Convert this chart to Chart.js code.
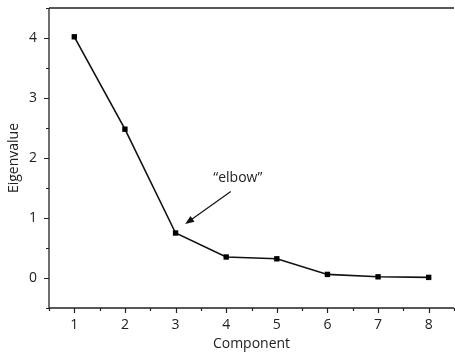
<!DOCTYPE html>
<html>
<head>
<meta charset="utf-8">
<script src="https://cdn.jsdelivr.net/npm/chart.js@4"></script>
<style>
  html, body { margin: 0; padding: 0; background: #fff; overflow: hidden; }
  #wrap { width: 458px; height: 352px; }
</style>
</head>
<body>
<div id="wrap"><canvas id="scree"></canvas></div>
<script>
// Daten
const components = [1, 2, 3, 4, 5, 6, 7, 8];
const eigenvalues = [4.02, 2.48, 0.75, 0.35, 0.32, 0.06, 0.02, 0.01];
const xTicks = [1, 2, 3, 4, 5, 6, 7, 8];
const yTicks = [0, 1, 2, 3, 4];

// Annotation in Datenkoordinaten
const elbowLabel = { text: '\u201celbow\u201d', x: 4.23, y: 1.67 };
const elbowArrow = { fromX: 4.09, fromY: 1.44, toX: 3.19, toY: 0.90 };

const FONT = '"Open Sans", "Noto Sans", sans-serif';

// Achsenlinien, Haupt- und Nebenstriche, Pfeil
const axesPlugin = {
    id: 'axesPlugin',
    afterDraw(chart) {
        const { ctx, chartArea: a, scales: { x, y } } = chart;
        ctx.save();
        ctx.strokeStyle = '#222';
        ctx.lineWidth = 1.3;
        ctx.beginPath();
        ctx.moveTo(a.left, a.top);
        ctx.lineTo(a.right, a.top);
        ctx.moveTo(a.left, a.top);
        ctx.lineTo(a.left, a.bottom);
        ctx.lineTo(a.right, a.bottom);
        ctx.stroke();

        ctx.lineWidth = 1.2;
        ctx.beginPath();
        for (let v = x.min; v <= x.max + 1e-9; v += 0.5) {
            const px = Math.round(x.getPixelForValue(v)) + 0.5;
            const len = Number.isInteger(v) ? 5 : 3;
            ctx.moveTo(px, a.bottom);
            ctx.lineTo(px, a.bottom + len);
        }
        for (let v = y.min; v <= y.max + 1e-9; v += 0.5) {
            const py = Math.round(y.getPixelForValue(v)) + 0.5;
            const len = Number.isInteger(v) ? 5 : 3;
            ctx.moveTo(a.left, py);
            ctx.lineTo(a.left - len, py);
        }
        ctx.stroke();

        // Pfeil
        const x1 = x.getPixelForValue(elbowArrow.fromX), y1 = y.getPixelForValue(elbowArrow.fromY);
        const x2 = x.getPixelForValue(elbowArrow.toX), y2 = y.getPixelForValue(elbowArrow.toY);
        const ang = Math.atan2(y2 - y1, x2 - x1);
        ctx.strokeStyle = '#111';
        ctx.fillStyle = '#111';
        ctx.lineWidth = 1.2;
        ctx.beginPath();
        ctx.moveTo(x1, y1);
        ctx.lineTo(x2 - 6 * Math.cos(ang), y2 - 6 * Math.sin(ang));
        ctx.stroke();
        ctx.beginPath();
        ctx.moveTo(x2, y2);
        ctx.lineTo(x2 - 9 * Math.cos(ang) + 3.5 * Math.sin(ang), y2 - 9 * Math.sin(ang) - 3.5 * Math.cos(ang));
        ctx.lineTo(x2 - 9 * Math.cos(ang) - 3.5 * Math.sin(ang), y2 - 9 * Math.sin(ang) + 3.5 * Math.cos(ang));
        ctx.closePath();
        ctx.fill();

        ctx.font = '14px ' + FONT;
        ctx.fillStyle = '#222';
        ctx.textAlign = 'center';
        ctx.textBaseline = 'middle';
        ctx.fillText(elbowLabel.text, x.getPixelForValue(elbowLabel.x), y.getPixelForValue(elbowLabel.y));
        ctx.restore();
    }
};

new Chart(document.getElementById('scree'), {
    type: 'line',
    data: {
        datasets: [{
            data: components.map((c, i) => ({ x: c, y: eigenvalues[i] })),
            borderColor: '#111',
            borderWidth: 1.6,
            tension: 0,
            pointStyle: 'rect',
            pointRadius: 3.8,
            pointBackgroundColor: '#000',
            pointBorderColor: '#000',
            pointBorderWidth: 0
        }]
    },
    options: {
        responsive: true,
        maintainAspectRatio: false,
        animation: false,
        layout: { padding: { top: 8, right: 0, left: 0, bottom: 0 } },
        plugins: { legend: { display: false }, tooltip: { enabled: false } },
        scales: {
            x: {
                type: 'linear',
                min: 0.5,
                max: 8.5,
                afterBuildTicks: s => { s.ticks = xTicks.map(v => ({ value: v })); },
                afterFit: s => { s.height = 44; s.paddingLeft = 0; s.paddingRight = 0; },
                grid: { display: false, drawTicks: false },
                border: { display: false },
                ticks: { color: '#222', padding: 9, font: { family: FONT, size: 14 } },
                title: { display: true, text: 'Component', color: '#222', padding: 0, font: { family: FONT, size: 14 } }
            },
            y: {
                min: -0.5,
                max: 4.5,
                afterBuildTicks: s => { s.ticks = yTicks.map(v => ({ value: v })); },
                afterFit: s => { s.width = 49; s.paddingTop = 0; s.paddingBottom = 0; },
                grid: { display: false, drawTicks: false },
                border: { display: false },
                ticks: { color: '#222', padding: 12, font: { family: FONT, size: 14 } },
                title: { display: true, text: 'Eigenvalue', color: '#222', padding: { top: 6, bottom: 0 }, font: { family: FONT, size: 14 } }
            }
        }
    },
    plugins: [axesPlugin]
});
</script>
</body>
</html>
